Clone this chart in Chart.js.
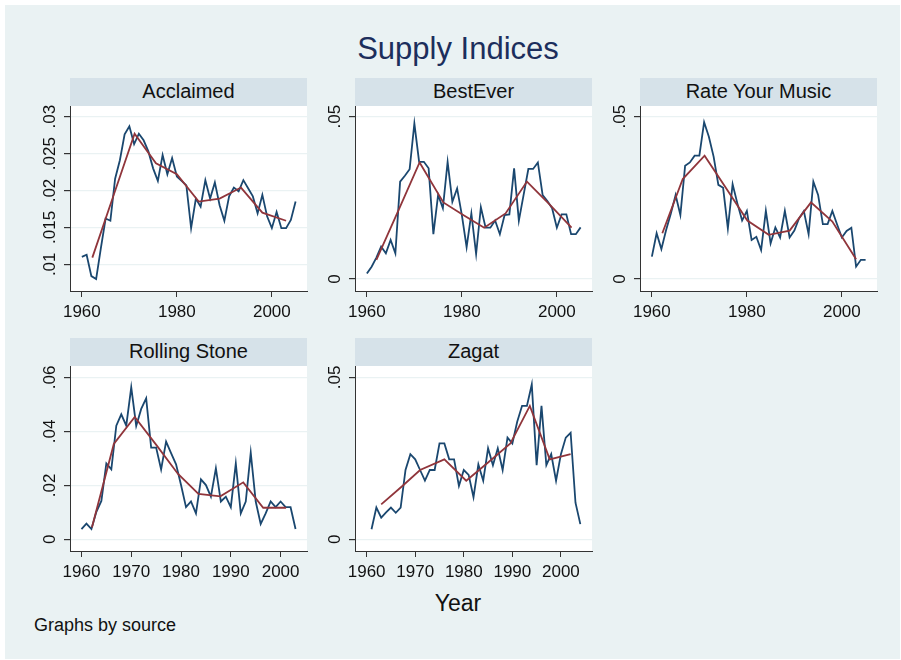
<!DOCTYPE html>
<html>
<head>
<meta charset="utf-8">
<title>Supply Indices</title>
<script src="https://cdn.jsdelivr.net/npm/chart.js@4.4.0/dist/chart.umd.min.js"></script>
<style>
  body { margin: 0; background: #ffffff; font-family: "Liberation Sans", Arial, sans-serif; }
  #page { position: relative; width: 901px; height: 660px; overflow: hidden; }
  #frame { position: absolute; left: 5px; top: 5px; right: 1px; bottom: 1px; background: #eaf2f3; }
  .abs { position: absolute; }
  .strip { position: absolute; background: #d6e2e9; color: #111; font-size: 20px; text-align: center; }
  #title { position: absolute; left: 258px; width: 400px; top: 31px; line-height: 36px; font-size: 31px; color: #1c2e5c; text-align: center; }
  #xtitle { position: absolute; left: 358px; width: 200px; top: 589px; line-height: 28px; font-size: 23px; color: #111; text-align: center; }
  #note { position: absolute; left: 34px; top: 614px; line-height: 22px; font-size: 18px; color: #111; }
</style>
</head>
<body>
<div id="page">
  <div id="frame"></div>
  <div id="title">Supply Indices</div>
  <div id="xtitle">Year</div>
  <div id="note">Graphs by source</div>
</div>
<script>
// ---- data ----
var years1960to2005 = [1960, 1961, 1962, 1963, 1964, 1965, 1966, 1967, 1968, 1969,
  1970, 1971, 1972, 1973, 1974, 1975, 1976, 1977, 1978, 1979,
  1980, 1981, 1982, 1983, 1984, 1985, 1986, 1987, 1988, 1989,
  1990, 1991, 1992, 1993, 1994, 1995, 1996, 1997, 1998, 1999,
  2000, 2001, 2002, 2003, 2004, 2005];
var years1960to2003 = [1960, 1961, 1962, 1963, 1964, 1965, 1966, 1967, 1968, 1969,
  1970, 1971, 1972, 1973, 1974, 1975, 1976, 1977, 1978, 1979,
  1980, 1981, 1982, 1983, 1984, 1985, 1986, 1987, 1988, 1989,
  1990, 1991, 1992, 1993, 1994, 1995, 1996, 1997, 1998, 1999,
  2000, 2001, 2002, 2003];
var years1961to2004 = [1961, 1962, 1963, 1964, 1965, 1966, 1967, 1968, 1969,
  1970, 1971, 1972, 1973, 1974, 1975, 1976, 1977, 1978, 1979,
  1980, 1981, 1982, 1983, 1984, 1985, 1986, 1987, 1988, 1989,
  1990, 1991, 1992, 1993, 1994, 1995, 1996, 1997, 1998, 1999,
  2000, 2001, 2002, 2003, 2004];

var acclaimedValues = [.0110, .0113, .0084, .0080, .0122, .0162, .0159, .0216, .0241, .0276,
  .0287, .0263, .0277, .0268, .0253, .0230, .0213, .0248, .0222, .0244,
  .0219, .0213, .0207, .0149, .0189, .0178, .0214, .0189, .0211, .0180,
  .0159, .0192, .0204, .0199, .0214, .0203, .0192, .0169, .0194, .0165,
  .0149, .0171, .0149, .0149, .0160, .0185];
var acclaimedSmoothYears = [1962.2, 1966.7, 1971.1, 1975.6, 1980.0, 1984.6, 1989.0, 1993.5, 1998.0, 2003.0];
var acclaimedSmoothValues = [.0109, .0194, .0277, .0237, .0222, .0185, .0189, .0204, .0170, .0159];

var bestEverValues = [.0017, .0038, .0066, .0100, .0079, .0120, .0079, .0300, .0318, .0338,
  .0479, .0361, .0361, .0341, .0138, .0259, .0218, .0361, .0238, .0279,
  .0197, .0098, .0202, .0077, .0221, .0158, .0158, .0180, .0138, .0197,
  .0199, .0341, .0180, .0259, .0339, .0339, .0359, .0259, .0240, .0218,
  .0158, .0199, .0199, .0138, .0138, .0159];
var bestEverSmoothYears = [1962.0, 1966.6, 1971.1, 1976.1, 1980.2, 1984.7, 1989.2, 1993.7, 1998.3, 2003.1];
var bestEverSmoothValues = [.0059, .0210, .0359, .0236, .0198, .0158, .0202, .0300, .0232, .0158];

var rymValues = [.0069, .0141, .0092, .0151, .0202, .0259, .0197, .0349, .0359, .0380,
  .0380, .0483, .0438, .0377, .0290, .0281, .0156, .0292, .0233, .0180,
  .0210, .0120, .0130, .0089, .0210, .0110, .0159, .0128, .0210, .0128,
  .0149, .0187, .0209, .0138, .0300, .0259, .0169, .0169, .0210, .0168,
  .0128, .0148, .0158, .0038, .0059, .0059];
var rymSmoothYears = [1962.2, 1966.5, 1971.1, 1975.6, 1980.1, 1984.6, 1989.0, 1993.5, 1998.0, 2003.0];
var rymSmoothValues = [.0141, .0308, .0380, .0280, .0180, .0136, .0149, .0236, .0177, .0061];

var rollingStoneValues = [.0038, .0058, .0038, .0102, .0142, .0281, .0259, .0421, .0463, .0421,
  .0563, .0420, .0483, .0522, .0340, .0340, .0259, .0362, .0319, .0278,
  .0201, .0119, .0140, .0096, .0222, .0201, .0158, .0263, .0140, .0158,
  .0119, .0281, .0096, .0140, .0321, .0140, .0057, .0096, .0140, .0119,
  .0140, .0119, .0119, .0038];
var rollingStoneSmoothYears = [1962.1, 1966.5, 1970.7, 1975.1, 1979.4, 1983.5, 1987.9, 1992.5, 1996.5, 2001.1];
var rollingStoneSmoothValues = [.0044, .0353, .0453, .0348, .0242, .0168, .0159, .0211, .0117, .0117];

var zagatValues = [.0031, .0098, .0067, .0083, .0098, .0082, .0098, .0214, .0263,
  .0247, .0214, .0181, .0214, .0214, .0296, .0296, .0247, .0247, .0165,
  .0214, .0199, .0130, .0231, .0181, .0281, .0229, .0281, .0214, .0314,
  .0296, .0363, .0412, .0412, .0478, .0229, .0412, .0229, .0263, .0181,
  .0263, .0314, .0329, .0113, .0047];
var zagatSmoothYears = [1963.0, 1967.3, 1971.0, 1976.0, 1980.5, 1985.0, 1989.6, 1993.6, 1997.7, 2002.0];
var zagatSmoothValues = [.0108, .0164, .0214, .0247, .0181, .0237, .0296, .0412, .0247, .0263];

// tick values and their labels
var xTicksWide = [1960, 1980, 2000];
var xTicksNarrow = [1960, 1970, 1980, 1990, 2000];
var acclaimedYTicks = [.01, .015, .02, .025, .03];
var acclaimedYLabels = ['.01', '.015', '.02', '.025', '.03'];
var fiveYTicks = [0, .05];
var fiveYLabels = ['0', '.05'];
var rollingStoneYTicks = [0, .02, .04, .06];
var rollingStoneYLabels = ['0', '.02', '.04', '.06'];

// ---- chart setup ----
var FONT = '"Liberation Sans", Arial, sans-serif';
var AXIS = '#333333';
var NAVY = '#1a476f';
var MAROON = '#90353b';
var PLOT_W = 237, PLOT_H = 185;

var panels = [
  { title: 'Acclaimed', years: years1960to2005, values: acclaimedValues,
    sx: acclaimedSmoothYears, sy: acclaimedSmoothValues,
    xTicks: xTicksWide, yTicks: acclaimedYTicks, yLabels: acclaimedYLabels,
    left: 70, top: 106, xMin: 1957.5, xMax: 2007.4, yMin: .00638, yMax: .03145, labelPad: -2.5 },
  { title: 'BestEver', years: years1960to2005, values: bestEverValues,
    sx: bestEverSmoothYears, sy: bestEverSmoothValues,
    xTicks: xTicksWide, yTicks: fiveYTicks, yLabels: fiveYLabels,
    left: 355, top: 106, xMin: 1957.5, xMax: 2007.4, yMin: -.0037, yMax: .0533, labelPad: 2.2 },
  { title: 'Rate Your Music', years: years1960to2005, values: rymValues,
    sx: rymSmoothYears, sy: rymSmoothValues,
    xTicks: xTicksWide, yTicks: fiveYTicks, yLabels: fiveYLabels,
    left: 640, top: 106, xMin: 1957.5, xMax: 2007.4, yMin: -.0037, yMax: .0533, labelPad: 2.2 },
  { title: 'Rolling Stone', years: years1960to2003, values: rollingStoneValues,
    sx: rollingStoneSmoothYears, sy: rollingStoneSmoothValues,
    xTicks: xTicksNarrow, yTicks: rollingStoneYTicks, yLabels: rollingStoneYLabels,
    left: 70, top: 366, xMin: 1957.7, xMax: 2005.3, yMin: -.00433, yMax: .0642, labelPad: 2.2 },
  { title: 'Zagat', years: years1961to2004, values: zagatValues,
    sx: zagatSmoothYears, sy: zagatSmoothValues,
    xTicks: xTicksNarrow, yTicks: fiveYTicks, yLabels: fiveYLabels,
    left: 355, top: 366, xMin: 1957.6, xMax: 2006.4, yMin: -.0036, yMax: .0535, labelPad: 2.2 }
];

// white plot region behind grid and lines
var plotBackground = {
  id: 'plotBackground',
  beforeDraw: function(chart) {
    var a = chart.chartArea;
    var ctx = chart.ctx;
    ctx.save();
    ctx.fillStyle = '#ffffff';
    ctx.fillRect(a.left, a.top, a.right - a.left, a.bottom - a.top);
    ctx.restore();
  }
};

function toPoints(xs, ys) {
  var pts = [];
  for (var i = 0; i < xs.length; i++) pts.push({ x: xs[i], y: ys[i] });
  return pts;
}

function makePanel(p) {
  var page = document.getElementById('page');

  var strip = document.createElement('div');
  strip.className = 'strip';
  strip.style.left = p.left + 'px';
  strip.style.top = (p.top - 28) + 'px';
  strip.style.width = PLOT_W + 'px';
  strip.style.height = '28px';
  strip.style.lineHeight = '27px';
  strip.textContent = p.title;

  var canvas = document.createElement('canvas');
  canvas.className = 'abs';
  canvas.width = 50 + PLOT_W + 15;
  canvas.height = 20 + PLOT_H + 40;
  canvas.style.left = (p.left - 50) + 'px';
  canvas.style.top = (p.top - 20) + 'px';
  page.appendChild(canvas);
  page.appendChild(strip);

  new Chart(canvas.getContext('2d'), {
    type: 'line',
    data: {
      datasets: [{
        data: toPoints(p.sx, p.sy),
        borderColor: MAROON,
        borderWidth: 1.8,
        pointRadius: 0,
        tension: 0
      }, {
        data: toPoints(p.years, p.values),
        borderColor: NAVY,
        borderWidth: 1.8,
        pointRadius: 0,
        tension: 0
      }]
    },
    options: {
      responsive: false,
      animation: false,
      events: [],
      layout: { padding: { left: 0, top: 20, right: 15, bottom: 0 } },
      plugins: { legend: { display: false }, tooltip: { enabled: false } },
      scales: {
        x: {
          type: 'linear',
          min: p.xMin,
          max: p.xMax,
          afterBuildTicks: function(s) { s.ticks = p.xTicks.map(function(v) { return { value: v }; }); },
          afterFit: function(s) { s.height = 40; },
          grid: { drawOnChartArea: false, tickLength: 6, tickColor: AXIS },
          border: { display: true, color: AXIS, width: 1 },
          ticks: {
            autoSkip: false, maxRotation: 0, padding: 5, color: '#111',
            font: { family: FONT, size: 17 },
            callback: function(v) { return String(v); }
          }
        },
        y: {
          type: 'linear',
          min: p.yMin,
          max: p.yMax,
          afterBuildTicks: function(s) { s.ticks = p.yTicks.map(function(v) { return { value: v }; }); },
          afterFit: function(s) { s.width = 50; },
          grid: { color: '#eaf2f3', lineWidth: 1.2, tickLength: 6, tickColor: AXIS },
          border: { display: true, color: AXIS, width: 1 },
          ticks: {
            autoSkip: false, minRotation: 90, maxRotation: 90, crossAlign: 'center',
            padding: p.labelPad, color: '#111',
            font: { family: FONT, size: 17 },
            callback: function(v, i) { return p.yLabels[i]; }
          }
        }
      }
    },
    plugins: [plotBackground]
  });
}

panels.forEach(makePanel);
</script>
</body>
</html>
